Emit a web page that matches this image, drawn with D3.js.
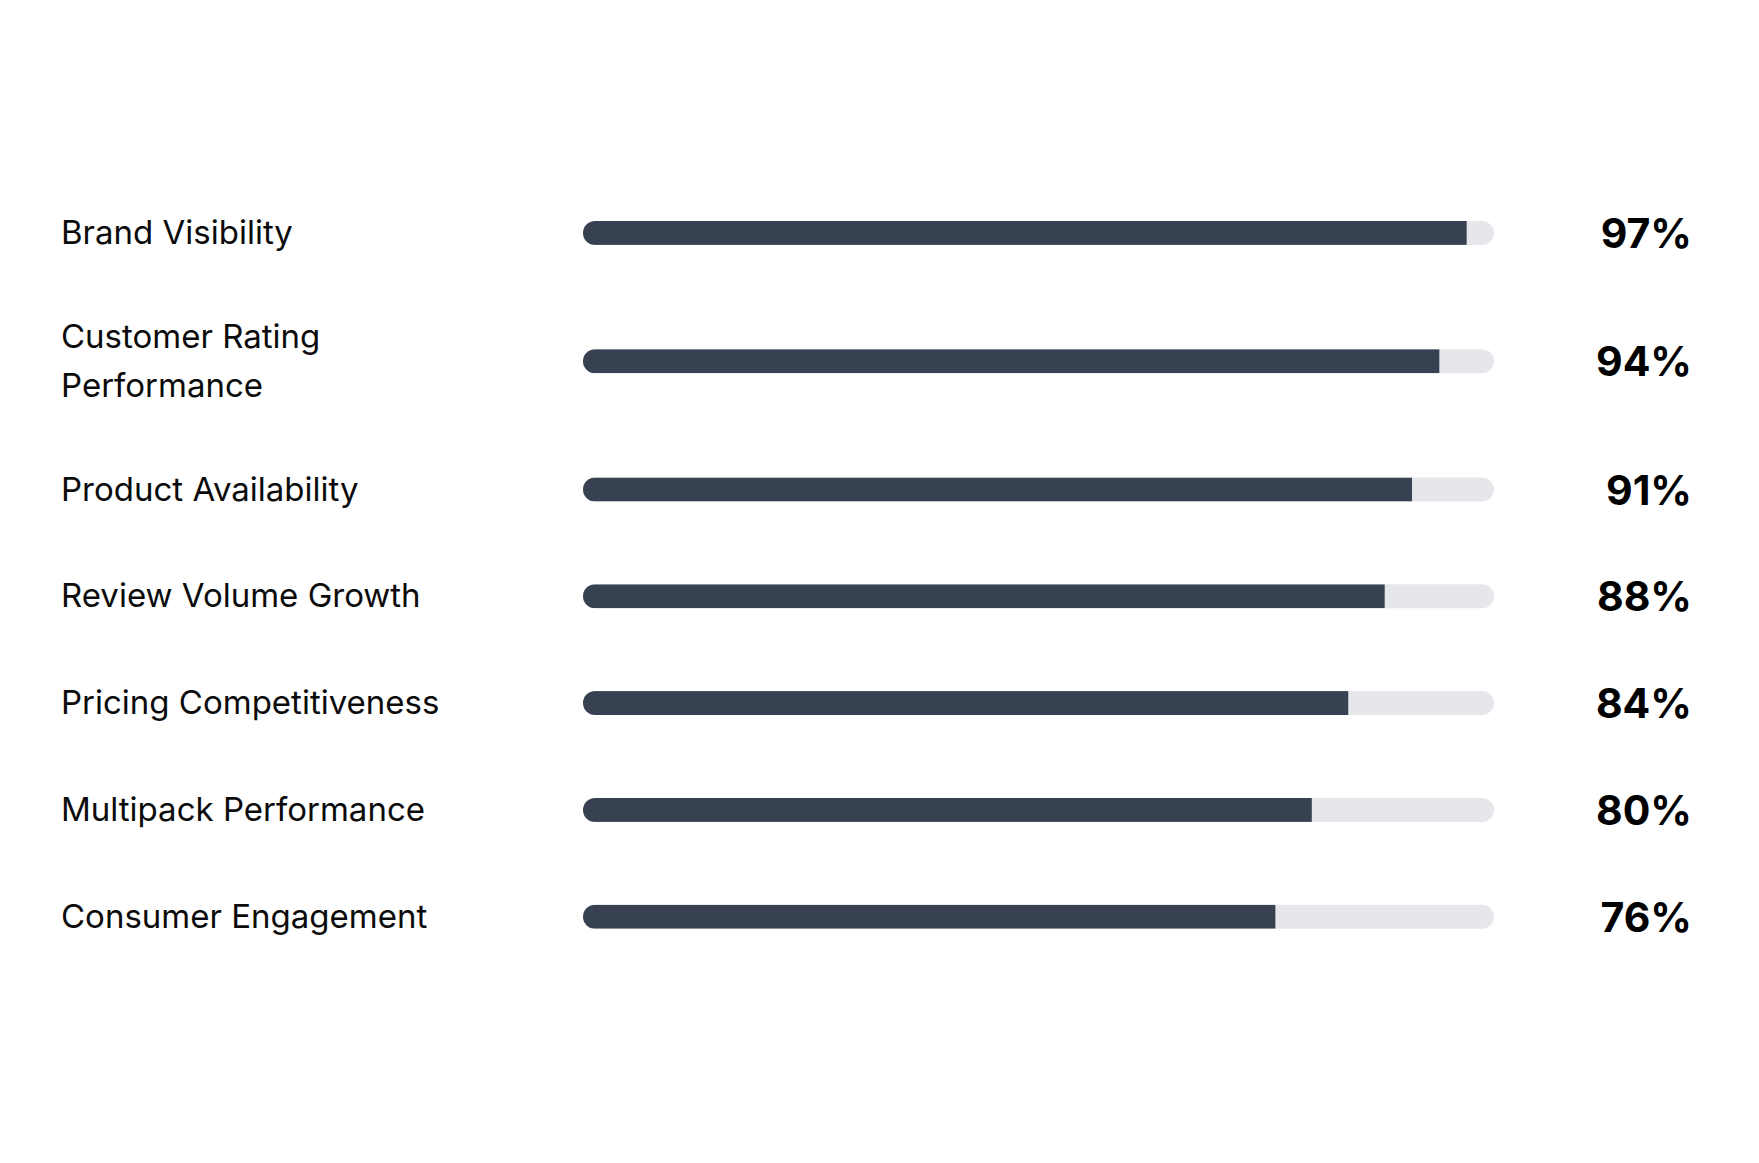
<!DOCTYPE html>
<html>
<head>
<meta charset="utf-8">
<script src="https://cdn.jsdelivr.net/npm/d3@7/dist/d3.min.js"></script>
<style>
  html, body { margin: 0; padding: 0; background: #ffffff; }
  svg { display: block; }
</style>
</head>
<body>
<svg id="chart" width="1759" height="1163"></svg>
<script>
// ---- Data ----
const categories = [
  "Brand Visibility",
  "Customer Rating\nPerformance",
  "Product Availability",
  "Review Volume Growth",
  "Pricing Competitiveness",
  "Multipack Performance",
  "Consumer Engagement"
];
const values = [97, 94, 91, 88, 84, 80, 76];
const valueLabels = ["97%", "94%", "91%", "88%", "84%", "80%", "76%"];
const domainMax = [0, 100];

// ---- Layout ----
const W = 1759, H = 1163;
const labelX = 61;
const trackX0 = 583, trackX1 = 1494;
const valueX = 1692;
const barH = 24;
const rowBase = 106.8;
const lineH = 49;
const topY = 179.5;

const svg = d3.select("#chart");
svg.append("rect").attr("width", W).attr("height", H).attr("fill", "#ffffff");

const x = d3.scaleLinear().domain(domainMax).range([trackX0, trackX1]);

const rows = categories.map((c, i) => ({
  lines: c.split("\n"),
  value: values[i],
  label: valueLabels[i],
  i
}));
// cumulative row positions
let acc = topY;
rows.forEach(r => {
  const h = rowBase + (r.lines.length - 1) * 43;
  r.cy = acc + h / 2;
  acc += h;
});

const defs = svg.append("defs");
rows.forEach(r => {
  defs.append("clipPath").attr("id", "clip" + r.i)
    .append("rect")
    .attr("x", x(0)).attr("y", r.cy - barH / 2)
    .attr("width", x(100) - x(0)).attr("height", barH)
    .attr("rx", barH / 2).attr("ry", barH / 2);
});

const g = svg.append("g").selectAll("g.row").data(rows).join("g").attr("class", "row");

// labels
g.append("text")
  .attr("x", labelX)
  .attr("font-family", "Inter, 'Noto Sans', sans-serif")
  .attr("font-size", 33)
  .attr("fill", "#0b0b0b")
  .each(function(d) {
    const t = d3.select(this);
    const n = d.lines.length;
    d.lines.forEach((ln, k) => {
      t.append("tspan")
        .attr("x", labelX)
        .attr("y", d.cy - 1 + (k - (n - 1) / 2) * lineH)
        .attr("dominant-baseline", "central")
        .text(ln);
    });
  });

// track
g.append("rect")
  .attr("x", x(0))
  .attr("y", d => d.cy - barH / 2)
  .attr("width", x(100) - x(0))
  .attr("height", barH)
  .attr("rx", barH / 2)
  .attr("fill", "#e5e7eb");

// fill
g.append("rect")
  .attr("clip-path", d => `url(#clip${d.i})`)
  .attr("x", x(0))
  .attr("y", d => d.cy - barH / 2)
  .attr("width", d => x(d.value) - x(0))
  .attr("height", barH)
  .attr("fill", "#374151");

// value labels
g.append("text")
  .attr("x", valueX)
  .attr("y", d => d.cy)
  .attr("text-anchor", "end")
  .attr("dominant-baseline", "central")
  .attr("font-family", "Inter, 'Noto Sans', sans-serif")
  .attr("font-weight", 700)
  .attr("font-size", 41)
  .attr("fill", "#000000")
  .text(d => d.label);
</script>
</body>
</html>
